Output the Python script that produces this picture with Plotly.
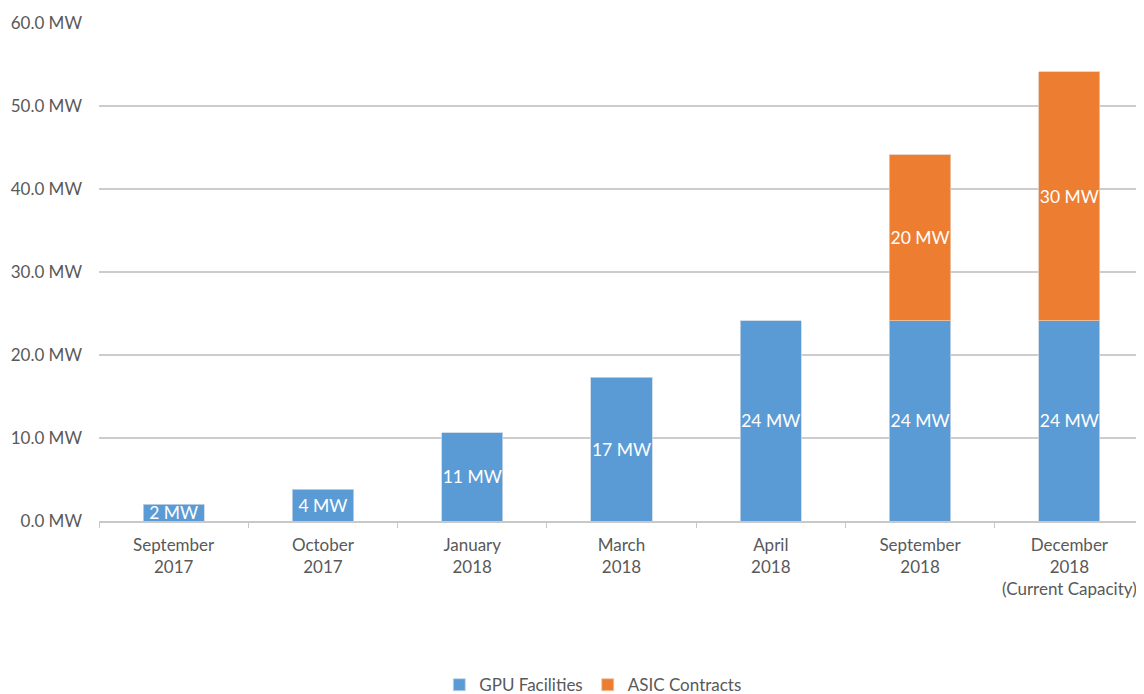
import plotly.graph_objects as go

categories = ["September<br>2017", "October<br>2017", "January<br>2018", "March<br>2018",
              "April<br>2018", "September<br>2018", "December<br>2018<br>(Current Capacity)"]
gpu_mw = [2.0, 3.8, 10.6, 17.3, 24.1, 24.1, 24.1]
asic_mw = [None, None, None, None, None, 20.0, 30.0]
y_ticks = [0, 10, 20, 30, 40, 50, 60]

FONT = "Lato"
GRAY = "#595959"

fig = go.Figure()
fig.add_trace(go.Bar(
    x=categories, y=gpu_mw, name="GPU Facilities",
    marker=dict(color="#5B9BD5", line=dict(color="#c8d6e6", width=0.8)),
    texttemplate="%{y:.0f} MW", textposition="inside", insidetextanchor="middle",
    textangle=0, constraintext="none",
    textfont=dict(color="white", size=17.5, family=FONT),
))
fig.add_trace(go.Bar(
    x=categories, y=asic_mw, name="ASIC Contracts",
    marker=dict(color="#ED7D31", line=dict(color="#e8c8b0", width=0.8)),
    texttemplate="%{y:.0f} MW", textposition="inside", insidetextanchor="middle",
    textangle=0, constraintext="none",
    textfont=dict(color="white", size=17.5, family=FONT),
))

fig.update_layout(
    barmode="stack", bargap=0.59,
    width=1136, height=686,
    margin=dict(l=91, r=0, t=14, b=173, autoexpand=False),
    paper_bgcolor="white", plot_bgcolor="white",
    font=dict(family=FONT, color=GRAY, size=17),
    legend=dict(orientation="h", xref="paper", yref="paper",
                x=0.473, xanchor="center", y=-0.329, yanchor="middle",
                font=dict(size=17, color=GRAY), itemwidth=30,
                traceorder="normal"),
)
fig.update_yaxes(
    range=[0, 60.1], tickvals=y_ticks,
    ticktext=[f"{v:.1f} MW" for v in y_ticks],
    showgrid=True, gridcolor="#cccccc", gridwidth=1.5,
    zeroline=False, showline=False, automargin=False,
    tickfont=dict(size=17, color=GRAY), ticklabelstandoff=16,
)
fig.update_xaxes(
    showline=True, linecolor="#c8c8c8", linewidth=1.5, automargin=False,
    ticks="outside", tickson="boundaries", ticklen=5, tickcolor="#c8c8c8",
    tickfont=dict(size=17, color=GRAY), ticklabelstandoff=8,
)

fig.write_html("out.html")
